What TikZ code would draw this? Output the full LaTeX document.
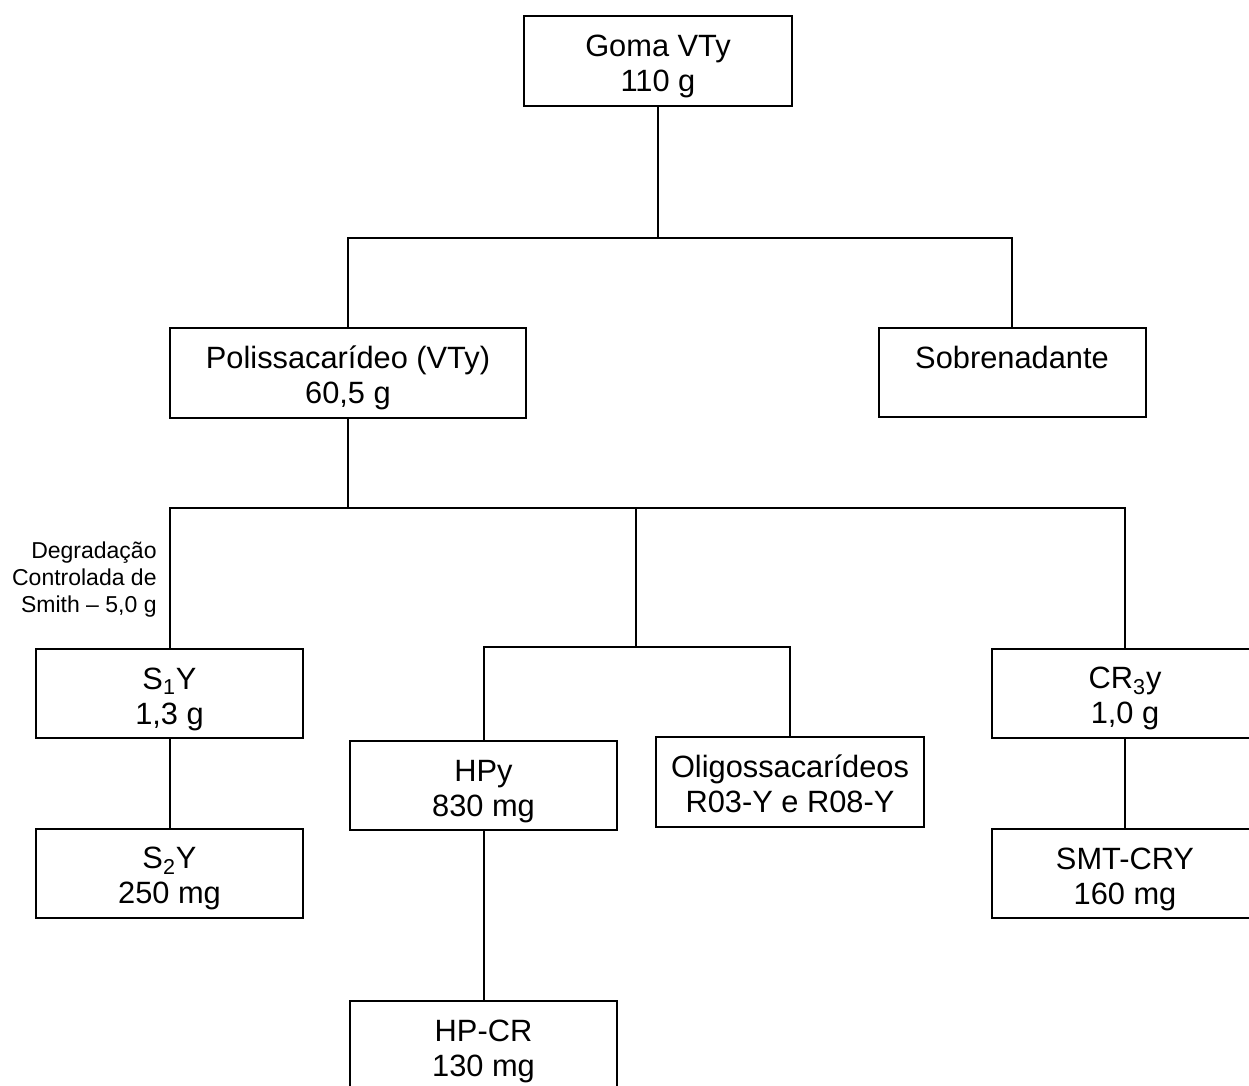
\documentclass[tikz,border=0pt]{standalone}
\usepackage{fontspec}
\setmainfont{Liberation Sans}
\newcommand\mainsz{\fontsize{15.4}{17.5}\selectfont}
\newcommand\smallsz{\fontsize{11.5}{13.5}\selectfont}
\newcommand\bxl[1]{\rule[-1.1pt]{0pt}{15.6pt}\smash{#1}}
\begin{document}
\begin{tikzpicture}[x=0.5pt,y=-0.5pt,
  box/.style={draw, line width=1pt, inner sep=0pt, minimum width=133.5pt,
              minimum height=44.5pt, align=center, font=\mainsz},
  conn/.style={line width=1pt},
  note/.style={anchor=east, align=right, inner sep=0pt, font=\smallsz}]
\useasboundingbox (0,0) rectangle (1249,1086);

\node[box, minimum width=134pt, minimum height=45pt] (goma) at (658,61) {\bxl{Goma VTy}\\\bxl{110 g}};
\node[box, minimum width=178pt, minimum height=45pt] (polis) at (348,373) {\bxl{Polissacarídeo (VTy)}\\\bxl{60,5 g}};
\node[box] (sobr) at (1012,372.5) {\bxl{Sobrenadante}\\\bxl{}};
\node[box] (s1) at (169.5,693.5) {\bxl{S\textsubscript{1}Y}\\\bxl{1,3 g}};
\node[box] (s2) at (169.5,873) {\bxl{S\textsubscript{2}Y}\\\bxl{250 mg}};
\node[box] (hpy) at (483.5,785.5) {\bxl{HPy}\\\bxl{830 mg}};
\node[box, minimum width=134pt, minimum height=45pt] (oligo) at (790,782) {\bxl{Oligossacarídeos}\\\bxl{R03-Y e R08-Y}};
\node[box] (cr3) at (1125,693) {\bxl{CR\textsubscript{3}y}\\\bxl{1,0 g}};
\node[box] (smt) at (1125,873.5) {\bxl{SMT-CRY}\\\bxl{160 mg}};
\node[box] (hpcr) at (483.5,1045.5) {\bxl{HP-CR}\\\bxl{130 mg}};

\node[note] (lab) at (157,580) {Degradação\\Controlada de\\Smith – 5,0 g};

\coordinate (b1) at (658,238);
\coordinate (b2) at (348,508);
\coordinate (b3) at (636,647);

\draw[conn] (goma.south) -- (b1);
\draw[conn] (polis.north) |- (b1) -| (sobr.north);
\draw[conn] (polis.south) -- (b2);
\draw[conn] (s1.north) |- (b2) -| (cr3.north);
\draw[conn] (b3 |- b2) -- (b3);
\draw[conn] (hpy.north) |- (b3) -| (oligo.north);
\draw[conn] (s1.south) -- (s2.north);
\draw[conn] (hpy.south) -- (hpcr.north);
\draw[conn] (cr3.south) -- (smt.north);
\end{tikzpicture}
\end{document}
